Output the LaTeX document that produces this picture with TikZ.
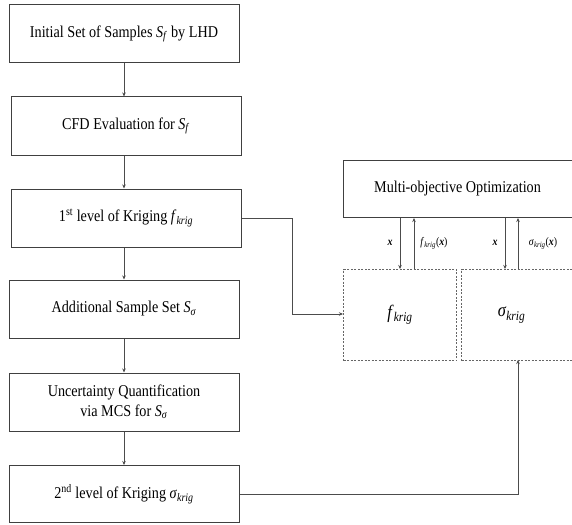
\documentclass[tikz,border=0pt]{standalone}
\usepackage{fontspec}
\setmainfont[FakeStretch=0.86]{Liberation Serif}
\usetikzlibrary{arrows.meta}
\newcommand{\sub}[1]{\textsubscript{\textit{#1}}}
\newcommand{\bx}{\textbf{\textit{x}}}
\begin{document}
\begin{tikzpicture}[x=1pt,y=-1pt,
  stepbox/.style={draw=black!75,line width=1pt,minimum width=230pt,minimum height=58pt,inner sep=0pt,align=center,font=\fontsize{16.5}{19.5}\selectfont},
  dbox/.style={draw=black!60,line width=1pt,dash pattern=on 2pt off 1.5pt,inner sep=0pt,font=\fontsize{19}{22}\selectfont},
  conn/.style={draw=black!70,line width=1pt,-{Stealth[length=4pt,width=3.5pt]}},
  lbl/.style={font=\fontsize{11.5}{13}\selectfont,inner sep=1pt}]
\useasboundingbox (0,0) rectangle (572,524);
\clip (0,0) rectangle (572,524);
\node[stepbox] (b1) at (124,34) {Initial Set of Samples \textit{S}\sub{f} by LHD};
\node[stepbox] (b2) at (126,126) {CFD Evaluation for \textit{S}\sub{f}};
\node[stepbox] (b3) at (126,218) {1\textsuperscript{st} level of Kriging \textit{f}\sub{krig}};
\node[stepbox] (b4) at (124,309) {Additional Sample Set \textit{S}\sub{σ}};
\node[stepbox] (b5) at (124,402) {Uncertainty Quantification\\via MCS for \textit{S}\sub{σ}};
\node[stepbox,minimum height=57pt] (b6) at (124,494) {2\textsuperscript{nd} level of Kriging \textit{σ}\sub{krig}};
\node[stepbox,minimum width=240pt,minimum height=57pt,anchor=north west] (mo) at (343,160) {\hspace*{-6pt}Multi-objective Optimization\hspace*{6pt}};
\node[dbox,minimum width=113pt,minimum height=91pt,anchor=north west] (fk) at (343,269) {\textit{f}\sub{krig}};
\node[dbox,minimum width=120pt,minimum height=91pt,anchor=north west] (sk) at (461,269) {\hspace*{-10pt}\textit{σ}\sub{krig}\hspace*{10pt}};
\coordinate (vx) at (124,0);
\coordinate (fin) at (400,269);
\coordinate (fout) at (414,269);
\coordinate (sin) at (505,269);
\coordinate (sout) at (518,269);
\coordinate (sbot) at (518,360);
\draw[conn] (vx |- b1.south) -- (vx |- b2.north);
\draw[conn] (vx |- b2.south) -- (vx |- b3.north);
\draw[conn] (vx |- b3.south) -- (vx |- b4.north);
\draw[conn] (vx |- b4.south) -- (vx |- b5.north);
\draw[conn] (vx |- b5.south) -- (vx |- b6.north);
\draw[conn] (b3.east) -- (292,218) |- (fk.west |- 0,314);
\draw[conn] (b6.east) -| (sbot);
\draw[conn] (fin |- mo.south) -- (fin);
\draw[conn] (fout) -- (fout |- mo.south);
\draw[conn] (sin |- mo.south) -- (sin);
\draw[conn] (sout) -- (sout |- mo.south);
\node[lbl] (l1) at (390,243) {\bx};
\node[lbl] (l2) at (434,243) {\textit{f}\sub{krig}(\bx)};
\node[lbl] (l3) at (495,243) {\bx};
\node[lbl] (l4) at (543,243) {\textit{σ}\sub{krig}(\bx)};
\end{tikzpicture}
\end{document}
